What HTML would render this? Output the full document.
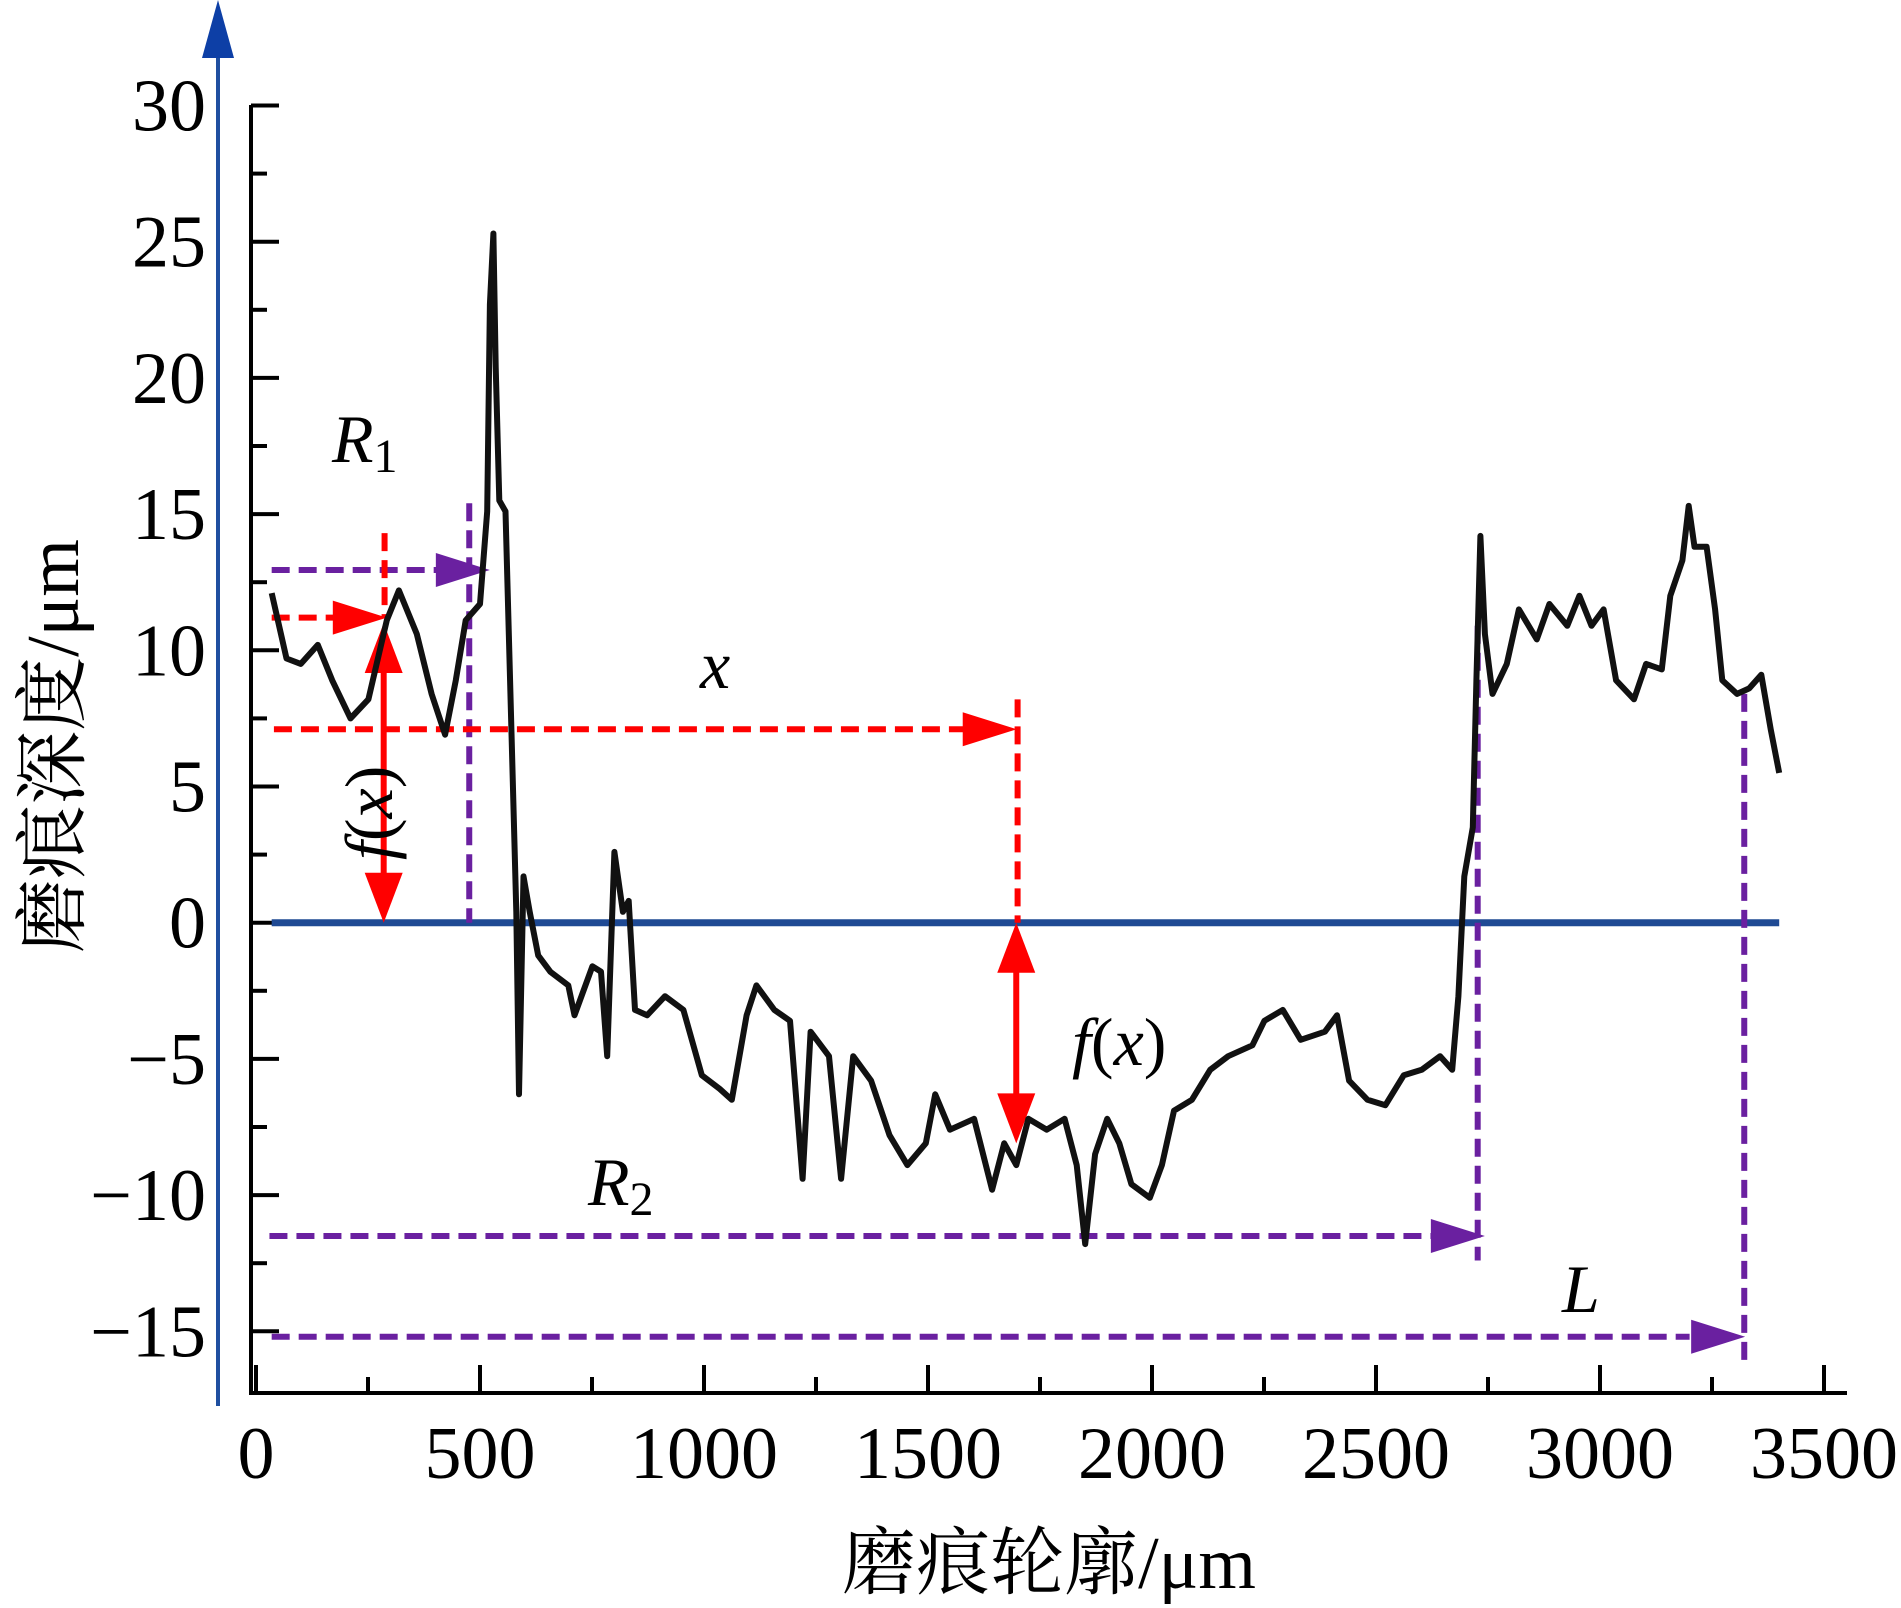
<!DOCTYPE html>
<html><head><meta charset="utf-8"><style>
html,body{margin:0;padding:0;background:#fff;}
svg{display:block;}
text{font-family:"Liberation Serif","Noto Serif CJK SC",serif;}
</style></head>
<body>
<svg id="chart" width="1901" height="1608" viewBox="0 0 1901 1608" xmlns="http://www.w3.org/2000/svg">
<g id="axes"></g>
<g id="annot"></g>
<g id="series"></g>
<text x="1049" y="1588" font-size="74" text-anchor="middle">磨痕轮廓/μm</text>
<text transform="translate(78,746) rotate(-90)" font-size="74" text-anchor="middle">磨痕深度/μm</text>
</svg>
<script>
const xTicks=[0,500,1000,1500,2000,2500,3000,3500];
const yTicks=[30,25,20,15,10,5,0,-5,-10,-15];
const profileX=[35,68,100,138,170,211,251,292,319,359,392,422,446,468,500,516,522,530,535,543,557,570,581,587,597,611,630,657,697,711,751,770,784,800,819,832,846,873,913,954,995,1035,1062,1095,1117,1157,1192,1220,1238,1279,1306,1333,1373,1414,1454,1495,1516,1549,1603,1643,1670,1697,1724,1765,1805,1832,1851,1873,1900,1927,1954,1995,2022,2049,2089,2130,2170,2224,2251,2292,2332,2386,2413,2440,2481,2521,2562,2602,2643,2670,2684,2697,2716,2724,2733,2743,2760,2792,2819,2859,2887,2927,2954,2981,3008,3036,3076,3103,3138,3157,3184,3198,3211,3238,3257,3273,3306,3333,3360,3381,3400];
const profileY=[12.1,9.7,9.5,10.2,8.9,7.5,8.2,11.1,12.2,10.6,8.4,6.9,8.9,11.1,11.7,15.1,22.7,25.3,20.4,15.5,15.1,7.1,0.4,-6.3,1.7,0.4,-1.2,-1.8,-2.3,-3.4,-1.6,-1.8,-4.9,2.6,0.4,0.8,-3.2,-3.4,-2.7,-3.2,-5.6,-6.1,-6.5,-3.4,-2.3,-3.2,-3.6,-9.4,-4.0,-4.9,-9.4,-4.9,-5.8,-7.8,-8.9,-8.1,-6.3,-7.6,-7.2,-9.8,-8.1,-8.9,-7.2,-7.6,-7.2,-8.9,-11.8,-8.5,-7.2,-8.1,-9.6,-10.1,-8.9,-6.9,-6.5,-5.4,-4.9,-4.5,-3.6,-3.2,-4.3,-4.0,-3.4,-5.8,-6.5,-6.7,-5.6,-5.4,-4.9,-5.4,-2.7,1.7,3.5,8.9,14.2,10.6,8.4,9.5,11.5,10.4,11.7,10.9,12.0,10.9,11.5,8.9,8.2,9.5,9.3,12.0,13.3,15.3,13.8,13.8,11.5,8.9,8.4,8.6,9.1,7.1,5.5];

const NS="http://www.w3.org/2000/svg";
function X(v){return 256+v*224/500;}
function Y(v){return 922.7-v*136.2/5;}
function mk(parent,tag,attrs){const e=document.createElementNS(NS,tag);for(const k in attrs)e.setAttribute(k,attrs[k]);parent.appendChild(e);return e;}
const axes=document.getElementById('axes'),annot=document.getElementById('annot'),series=document.getElementById('series');

let e=mk(axes,'line',{x1:218,y1:40,x2:218,y2:1406,stroke:'#1f4fa0','stroke-width':4});


e=mk(axes,'polygon',{points:'218,0 202,58 234,58',fill:'#0d3fa6'});


e=mk(axes,'line',{x1:251,y1:105,x2:251,y2:1393,stroke:'#000','stroke-width':4});


e=mk(axes,'line',{x1:249,y1:1393,x2:1847,y2:1393,stroke:'#000','stroke-width':4});


xTicks.forEach((t,i)=>{
  const x=X(t);
  let tk=mk(axes,'line',{x1:x,y1:1393,x2:x,y2:1365,stroke:'#000','stroke-width':4});
  
  
  if(i<xTicks.length-1){let m=mk(axes,'line',{x1:X(t+250),y1:1393,x2:X(t+250),y2:1377,stroke:'#000','stroke-width':4});
  
  }
  let lb=mk(axes,'text',{x:x,y:1478,'font-size':74,'text-anchor':'middle'});lb.textContent=t;
  
  
});
yTicks.forEach((t,i)=>{
  const y=Y(t);
  let tk=mk(axes,'line',{x1:251,y1:y,x2:279,y2:y,stroke:'#000','stroke-width':4});
  
  
  if(i<yTicks.length-1){let m=mk(axes,'line',{x1:251,y1:Y(t-2.5),x2:267,y2:Y(t-2.5),stroke:'#000','stroke-width':4});
  
  }
  let lb=mk(axes,'text',{x:206,y:y+25,'font-size':74,'text-anchor':'end'});lb.textContent=(t<0?'−'+(-t):t);
  
  
});

e=mk(annot,'line',{x1:X(35),y1:Y(0),x2:X(3400),y2:Y(0),stroke:'#1f4a94','stroke-width':7});



const PUR='#6a20a0',RED='#ff0000';
function dash(x1,y1,x2,y2,c,name){const l=mk(annot,'line',{x1:X(x1),y1:Y(y1),x2:X(x2),y2:Y(y2),stroke:c,'stroke-width':6,'stroke-dasharray':'18 9'});
  
  }
function headR(xe,yv,c,name){const x=X(xe),y=Y(yv);const p=mk(annot,'polygon',{points:`${x},${y} ${x-54},${y-17} ${x-54},${y+17}`,fill:c});
  
  }
function headV(xv,ye,dir,c,name){const x=X(xv),y=Y(ye);const p=mk(annot,'polygon',{points:`${x},${y} ${x-19},${y+dir*50} ${x+19},${y+dir*50}`,fill:c});
  
  }
function solidV(xv,y1,y2,c,name){const l=mk(annot,'line',{x1:X(xv),y1:Y(y1),x2:X(xv),y2:Y(y2),stroke:c,'stroke-width':6});
  
  }

dash(35,12.95,440,12.95,PUR,'r1-dashed-line');headR(522,12.95,PUR,'r1-arrow-head');
dash(476,15.4,476,0,PUR,'r1-vertical-marker');
dash(35,11.2,230,11.2,RED,'fx-left-dashed');headR(292,11.2,RED,'fx-left-arrow-head');
dash(287,14.3,287,11.2,RED,'fx-left-vertical-dash');
solidV(285,10,1,RED,'fx-left-double-arrow');headV(285,11.0,1,RED,'fx-left-up-head');headV(285,0,-1,RED,'fx-left-down-head');
dash(40,7.1,1640,7.1,RED,'x-dashed-line');headR(1698,7.1,RED,'x-arrow-head');
dash(1700,8.2,1700,0,RED,'x-vertical-marker');
solidV(1697,-1,-7,RED,'fx-right-double-arrow');headV(1697,0,1,RED,'fx-right-up-head');headV(1697,-8.1,-1,RED,'fx-right-down-head');
dash(30,-11.5,2630,-11.5,PUR,'r2-dashed-line');headR(2743,-11.5,PUR,'r2-arrow-head');
dash(2727,10.9,2727,-12.4,PUR,'r2-vertical-marker');
dash(35,-15.2,3200,-15.2,PUR,'l-dashed-line');headR(3324,-15.2,PUR,'l-arrow-head');
dash(3322,8.4,3322,-16.1,PUR,'l-vertical-marker');

function lbl(html,x,y,name,rot){const t=mk(annot,'text',{x:x,y:y,'font-size':68,'font-style':'italic'});t.innerHTML=html;
  if(rot)t.setAttribute('transform',rot);
  
  }
lbl('R<tspan font-style="normal" font-size="48" dy="10">1</tspan>',332,462,'label-r1');
lbl('x',700,688,'label-x');
lbl('f<tspan font-style="normal">(</tspan>x<tspan font-style="normal">)</tspan>',1072,1065,'label-fx-right');
lbl('f<tspan font-style="normal">(</tspan>x<tspan font-style="normal">)</tspan>',0,0,'label-fx-left','translate(392,860) rotate(-90)');
lbl('R<tspan font-style="normal" font-size="48" dy="10">2</tspan>',588,1205,'label-r2');
lbl('L',1562,1312,'label-l');

let d='';profileX.forEach((v,i)=>{d+=(i?'L':'M')+X(v).toFixed(1)+' '+Y(profileY[i]).toFixed(1)+' ';});
e=mk(series,'path',{d:d,fill:'none',stroke:'#111','stroke-width':6,'stroke-linejoin':'round'});


</script>
</body></html>
